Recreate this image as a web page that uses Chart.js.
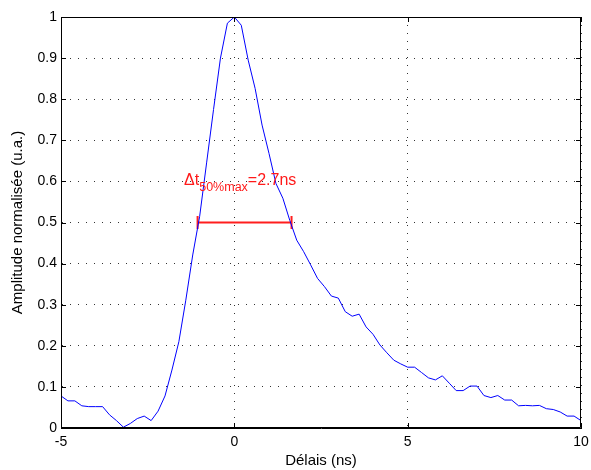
<!DOCTYPE html>
<html>
<head>
<meta charset="utf-8">
<script src="https://cdn.jsdelivr.net/npm/chart.js@4"></script>
<style>
  html, body { margin: 0; padding: 0; background: #fff; }
  #wrap { width: 591px; height: 470px; }
</style>
</head>
<body>
<div id="wrap"><canvas id="pulseChart" width="591" height="470"></canvas></div>
<script>
// Delay axis (ns), sampled every 0.2 ns
const delays = [
  -5.0, -4.8, -4.6, -4.4, -4.2, -4.0, -3.8, -3.6, -3.4, -3.2,
  -3.0, -2.8, -2.6, -2.4, -2.2, -2.0, -1.8, -1.6, -1.4, -1.2,
  -1.0, -0.8, -0.6, -0.4, -0.2, 0.0, 0.2, 0.4, 0.6, 0.8,
  1.0, 1.2, 1.4, 1.6, 1.8, 2.0, 2.2, 2.4, 2.6, 2.8,
  3.0, 3.2, 3.4, 3.6, 3.8, 4.0, 4.2, 4.4, 4.6, 4.8,
  5.0, 5.2, 5.4, 5.6, 5.8, 6.0, 6.2, 6.4, 6.6, 6.8,
  7.0, 7.2, 7.4, 7.6, 7.8, 8.0, 8.2, 8.4, 8.6, 8.8,
  9.0, 9.2, 9.4, 9.6, 9.8, 10.0
];

// Normalised amplitude (a.u.)
const amplitude = [
  0.078, 0.066, 0.066, 0.054, 0.052, 0.052, 0.052, 0.032, 0.018, 0.002,
  0.011, 0.023, 0.029, 0.018, 0.041, 0.078, 0.141, 0.210, 0.311, 0.421,
  0.515, 0.645, 0.775, 0.900, 0.985, 1.000, 0.980, 0.895, 0.826, 0.737,
  0.668, 0.595, 0.559, 0.505, 0.457, 0.429, 0.397, 0.364, 0.344, 0.321,
  0.316, 0.283, 0.272, 0.277, 0.246, 0.228, 0.202, 0.183, 0.165, 0.156,
  0.148, 0.148, 0.135, 0.122, 0.117, 0.127, 0.109, 0.091, 0.091, 0.102,
  0.102, 0.079, 0.074, 0.079, 0.068, 0.068, 0.054, 0.055, 0.054, 0.055,
  0.047, 0.045, 0.039, 0.029, 0.029, 0.018
];

// FWHM marker (start, end at half maximum)
const fwhmX = [-1.06, 1.65];
const fwhmY = [0.5, 0.5];

const xTicks = [-5, 0, 5, 10];
const yTicks = [0, 0.1, 0.2, 0.3, 0.4, 0.5, 0.6, 0.7, 0.8, 0.9, 1];

const FONT = "'Liberation Sans', Arial, Helvetica, sans-serif";

// Box round the plot and inward tick marks, MATLAB style
const boxPlugin = {
  id: "box",
  afterDraw(chart) {
    const { ctx, chartArea: a, scales } = chart;
    ctx.save();
    ctx.strokeStyle = "#000";
    ctx.lineWidth = 1;
    ctx.beginPath();
    ctx.rect(a.left + 0.5, a.top + 0.5, a.right - a.left - 1, a.bottom - a.top - 1);
    const tl = 5;
    xTicks.forEach((v) => {
      const px = Math.round(scales.x.getPixelForValue(v)) + 0.5;
      ctx.moveTo(px, a.bottom);
      ctx.lineTo(px, a.bottom - tl);
      ctx.moveTo(px, a.top);
      ctx.lineTo(px, a.top + tl);
    });
    yTicks.forEach((v) => {
      const py = Math.round(scales.y.getPixelForValue(v)) + 0.5;
      ctx.moveTo(a.left, py);
      ctx.lineTo(a.left + tl, py);
      ctx.moveTo(a.right, py);
      ctx.lineTo(a.right - tl, py);
    });
    ctx.stroke();

    // FWHM label
    const x0 = scales.x.getPixelForValue(-1.45);
    const y0 = scales.y.getPixelForValue(0.591);
    ctx.fillStyle = "#ff1a1a";
    ctx.textBaseline = "alphabetic";
    ctx.textAlign = "left";
    ctx.font = "16px " + FONT;
    ctx.fillText("\u0394t", x0, y0);
    let w = ctx.measureText("\u0394t").width;
    ctx.font = "12.5px " + FONT;
    ctx.fillText("50%max", x0 + w, y0 + 6);
    w += ctx.measureText("50%max").width;
    ctx.font = "16px " + FONT;
    ctx.fillText("=2.7ns", x0 + w, y0);
    ctx.restore();
  },
};

const ctx = document.getElementById("pulseChart").getContext("2d");

new Chart(ctx, {
  type: "line",
  data: {
    datasets: [
      {
        label: "Amplitude",
        data: delays.map((d, i) => ({ x: d, y: amplitude[i] })),
        borderColor: "rgb(0, 0, 255)",
        borderWidth: 1,
        pointRadius: 0,
        tension: 0,
        fill: false,
      },
      {
        label: "FWHM",
        data: fwhmX.map((d, i) => ({ x: d, y: fwhmY[i] })),
        borderColor: "rgb(255, 30, 30)",
        borderWidth: 2,
        pointStyle: "line",
        rotation: 90,
        pointRadius: 6.5,
        pointBorderWidth: 2,
        pointBorderColor: "rgb(255, 30, 30)",
        fill: false,
      },
    ],
  },
  options: {
    responsive: false,
    animation: false,
    layout: { padding: { left: 0, right: 10, top: 17, bottom: 0 } },
    plugins: {
      legend: { display: false },
      tooltip: { enabled: false },
    },
    scales: {
      x: {
        type: "linear",
        min: -5,
        max: 10,
        afterBuildTicks: (scale) => {
          scale.ticks = xTicks.map((v) => ({ value: v }));
        },
        afterFit: (scale) => {
          scale.height = 42;
          scale.paddingLeft = 0;
          scale.paddingRight = 0;
        },
        ticks: {
          color: "#000",
          font: { family: FONT, size: 14 },
          padding: 6,
          maxRotation: 0,
        },
        grid: { color: "#333", lineWidth: 1, drawTicks: false },
        border: { display: true, color: "#000", dash: [1, 7] },
        title: {
          display: true,
          text: "Délais (ns)",
          color: "#000",
          font: { family: FONT, size: 15 },
          padding: { top: 0, bottom: 0 },
        },
      },
      y: {
        min: 0,
        max: 1,
        afterBuildTicks: (scale) => {
          scale.ticks = yTicks.map((v) => ({ value: v }));
        },
        afterFit: (scale) => {
          scale.width = 61;
          scale.paddingTop = 0;
          scale.paddingBottom = 0;
        },
        ticks: {
          color: "#000",
          font: { family: FONT, size: 14 },
          padding: 4,
          callback: (v) => String(Math.round(v * 10) / 10),
        },
        grid: { color: "#333", lineWidth: 1, drawTicks: false },
        border: { display: true, color: "#000", dash: [1, 7] },
        title: {
          display: true,
          text: "Amplitude normalisée (u.a.)",
          color: "#000",
          font: { family: FONT, size: 15 },
          padding: { top: 9, bottom: 0 },
        },
      },
    },
  },
  plugins: [boxPlugin],
});
</script>
</body>
</html>
